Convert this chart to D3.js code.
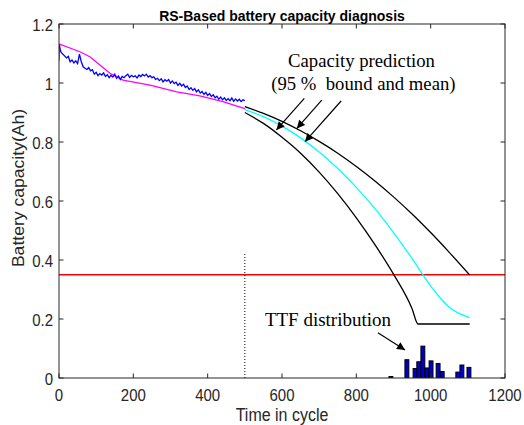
<!DOCTYPE html>
<html><head><meta charset="utf-8">
<script src="https://cdn.jsdelivr.net/npm/d3@7"></script>
<style>
html,body{margin:0;padding:0;background:#fff;}
text{font-family:"Liberation Sans",Arial,sans-serif;}
.serif{font-family:"Liberation Serif","Times New Roman",serif;white-space:pre;}
</style></head>
<body><svg id="chart" width="524" height="425"></svg>
<script>
// ---- data ----
const xTicks = [0,200,400,600,800,1000,1200];
const yTicks = [0,0.2,0.4,0.6,0.8,1,1.2];
const measuredT = d3.range(0,501,5);
const measuredCap = [1.130,1.105,1.098,1.092,1.085,1.090,1.072,1.078,1.068,1.075,1.066,1.098,1.072,1.055,1.050,1.046,1.052,1.041,1.045,1.030,
1.036,1.025,1.032,1.027,1.034,1.022,1.028,1.018,1.026,1.020,1.030,1.016,1.024,1.012,1.022,1.018,1.025,1.030,1.019,1.026,
1.021,1.024,1.017,1.027,1.022,1.029,1.024,1.030,1.020,1.025,1.018,1.021,1.012,1.016,1.008,1.014,1.004,1.011,1.006,1.012,
1.000,1.007,0.998,1.003,0.992,0.999,0.990,0.996,0.985,0.990,0.978,0.984,0.975,0.981,0.970,0.977,0.966,0.971,0.961,0.968,
0.958,0.964,0.954,0.960,0.950,0.955,0.945,0.952,0.943,0.950,0.941,0.947,0.940,0.949,0.938,0.946,0.939,0.945,0.937,0.943,0.940];
const fitT   = [0,2,56,83,110,137,172,245,317,379,441,500];
const fitCap = [1.075,1.132,1.106,1.089,1.061,1.033,1.010,0.993,0.970,0.956,0.937,0.913];
const predT     = [500,550,600,650,700,750,800,850,900,950,1000,1050,1105];
const upperCap  = [0.920,0.897,0.870,0.838,0.802,0.762,0.717,0.668,0.614,0.556,0.493,0.426,0.349];
const lowerT    = [500,550,600,650,700,750,800,850,900,950,966,1105];
const lowerCap  = [0.900,0.863,0.816,0.762,0.698,0.625,0.543,0.452,0.352,0.235,0.183,0.183];
const meanT     = [500,550,600,650,700,750,800,850,900,950,1000,1025,1050,1075,1105];
const meanCap   = [0.910,0.886,0.854,0.814,0.766,0.710,0.646,0.574,0.493,0.405,0.312,0.272,0.240,0.220,0.205];
const ttfCenters = [893,936,958,968,979,990,1001,1020,1031,1073,1084,1103];
const ttfHeights = [0.005,0.062,0.032,0.055,0.108,0.034,0.058,0.049,0.022,0.020,0.044,0.036];
const ttfBinWidth = 10.5;
const threshold = 0.35;
const predStart = 500, predStartTop = 0.42;

// ---- layout ----
const svg = d3.select("#chart");
const L=59, T=24, W=446, H=354;
const x = d3.scaleLinear().domain([0,1200]).range([L,L+W]);
const y = d3.scaleLinear().domain([0,1.2]).range([T+H,T]);
const axisColor = "#262626";
const SY = 1.1; // vertical stretch of sans text

svg.append("defs").append("marker").attr("id","ah").attr("viewBox","0 0 10 10")
  .attr("refX",10).attr("refY",5).attr("markerWidth",11).attr("markerHeight",8)
  .attr("markerUnits","userSpaceOnUse").attr("orient","auto")
  .append("path").attr("d","M0,0 L10,5 L0,10 z").attr("fill","#000");

svg.append("clipPath").attr("id","clip").append("rect")
  .attr("x",L).attr("y",T).attr("width",W).attr("height",H);
const g = svg.append("g").attr("clip-path","url(#clip)");

g.append("line").attr("x1",x(0)).attr("x2",x(1200)).attr("y1",y(threshold)).attr("y2",y(threshold))
  .attr("stroke","#ff0000").attr("stroke-width",1.5);
g.append("line").attr("x1",x(predStart)).attr("x2",x(predStart)).attr("y1",y(0)).attr("y2",y(predStartTop))
  .attr("stroke","#000").attr("stroke-width",1).attr("stroke-dasharray","1,2");

const line = d3.line().x(d=>x(d[0])).y(d=>y(d[1]));
const smooth = d3.line().x(d=>x(d[0])).y(d=>y(d[1])).curve(d3.curveMonotoneX);

g.append("path").datum(fitT.map((t,i)=>[t,fitCap[i]])).attr("d",line)
  .attr("fill","none").attr("stroke","#ff00ff").attr("stroke-width",1.3);
g.append("path").datum(measuredT.map((t,i)=>[t,measuredCap[i]])).attr("d",line)
  .attr("fill","none").attr("stroke","#0000ff").attr("stroke-width",1.3);
g.append("path").datum(predT.map((t,i)=>[t,upperCap[i]])).attr("d",smooth)
  .attr("fill","none").attr("stroke","#000").attr("stroke-width",1.3);
g.append("path").datum(lowerT.map((t,i)=>[t,lowerCap[i]])).attr("d",smooth)
  .attr("fill","none").attr("stroke","#000").attr("stroke-width",1.3);
g.append("path").datum(meanT.map((t,i)=>[t,meanCap[i]])).attr("d",smooth)
  .attr("fill","none").attr("stroke","#00ffff").attr("stroke-width",1.3);

g.selectAll("rect.bar").data(ttfCenters).enter().append("rect").attr("class","bar")
  .attr("x",(c)=>x(c-ttfBinWidth/2)).attr("width",(c)=>x(c+ttfBinWidth/2)-x(c-ttfBinWidth/2))
  .attr("y",(c,i)=>y(ttfHeights[i])).attr("height",(c,i)=>y(0)-y(ttfHeights[i]))
  .attr("fill","#0000cc").attr("stroke","#000").attr("stroke-width",1);

// axes box
const ax = svg.append("g");
ax.append("rect").attr("x",L).attr("y",T).attr("width",W).attr("height",H)
  .attr("fill","none").attr("stroke",axisColor).attr("stroke-width",1);
const tl = 4.5;
function stext(parent, px, py, str, size, anchor, bold, rotate){
  const tr = rotate ? `translate(${px},${py}) rotate(-90) scale(${SY},1)` : `translate(${px},${py}) scale(1,${SY})`;
  const t = parent.append("text").attr("transform",tr).attr("text-anchor",anchor)
    .attr("font-size",size).attr("fill",bold?"#000":axisColor).text(str);
  if(bold) t.attr("font-weight","bold");
  return t;
}
xTicks.forEach(t=>{
  ax.append("line").attr("x1",x(t)).attr("x2",x(t)).attr("y1",T+H).attr("y2",T+H-tl).attr("stroke",axisColor);
  ax.append("line").attr("x1",x(t)).attr("x2",x(t)).attr("y1",T).attr("y2",T+tl).attr("stroke",axisColor);
  stext(ax, x(t), T+H+22.5, String(t), 15, "middle");
});
yTicks.forEach(t=>{
  ax.append("line").attr("x1",L).attr("x2",L+tl).attr("y1",y(t)).attr("y2",y(t)).attr("stroke",axisColor);
  ax.append("line").attr("x1",L+W).attr("x2",L+W-tl).attr("y1",y(t)).attr("y2",y(t)).attr("stroke",axisColor);
  stext(ax, L-6, y(t)+7, d3.format("~g")(t), 15, "end");
});

stext(svg, L+W/2, 21, "RS-Based battery capacity diagnosis", 14, "middle", true);
stext(svg, L+W/2, 420.5, "Time in cycle", 16, "middle");
stext(svg, 23.5, 188, "Battery capacity(Ah)", 16, "middle", false, true);

// annotations
const ann = svg.append("g");
ann.append("text").attr("class","serif").attr("x",x(814)).attr("y",y(1.054)).attr("text-anchor","middle")
  .attr("font-size",18.7).text("Capacity prediction");
ann.append("text").attr("class","serif").attr("x",x(819)).attr("y",y(0.976)).attr("text-anchor","middle")
  .attr("font-size",18.7).text("(95 %  bound and mean)");
ann.append("text").attr("class","serif").attr("x",x(554)).attr("y",y(0.176)).attr("text-anchor","start")
  .attr("font-size",19).text("TTF distribution");
const arrows = [[660,0.948,585,0.841],[707,0.942,640,0.846],[759,0.939,662,0.801],[858,0.153,931,0.095]];
arrows.forEach(a=>{
  ann.append("line").attr("x1",x(a[0])).attr("y1",y(a[1])).attr("x2",x(a[2])).attr("y2",y(a[3]))
    .attr("stroke","#000").attr("stroke-width",1.2).attr("marker-end","url(#ah)");
});
</script></body></html>
